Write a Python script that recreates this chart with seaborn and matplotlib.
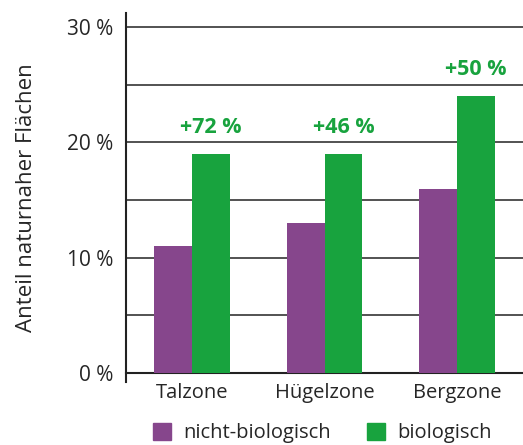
import pandas as pd
import matplotlib.pyplot as plt
import matplotlib.patches as mpatches
import seaborn as sns


# =====================
# DATA
# =====================

zones = ["Talzone", "Hügelzone", "Bergzone"]
nicht_bio = [11, 13, 16]
bio = [19, 19, 24]
increase_labels = ["+72 %", "+46 %", "+50 %"]
series_names = ["nicht-biologisch", "biologisch"]

df = pd.DataFrame({
    "zone": zones * 2,
    "wert": nicht_bio + bio,
    "typ": [series_names[0]] * 3 + [series_names[1]] * 3
})

purple = "#86468C"
green = "#18A33E"


# =====================
# PLOT
# =====================

sns.set_style("white")
plt.rcParams["font.family"] = ["Open Sans", "DejaVu Sans"]

fig = plt.figure(figsize=(5.23, 4.45), dpi=100)
ax = fig.add_axes([0.241, 0.141, 0.759, 0.829])

sns.barplot(
    data=df,
    x="zone",
    y="wert",
    hue="typ",
    palette=[purple, green],
    width=0.57,
    saturation=1,
    legend=False,
    linewidth=0,
    edgecolor="none",
    zorder=3,
    ax=ax
)

# annotations above the green bars
for i, (val, lab) in enumerate(zip(bio, increase_labels)):
    ax.text(
        i + 0.1425,
        val + 2.3,
        lab,
        ha="center",
        va="center",
        color=green,
        fontsize=15.5,
        fontweight="bold"
    )

ax.set_xlim(-0.5, 2.5)
ax.set_ylim(-0.8, 31.2)

ax.set_yticks([0, 10, 20, 30])
ax.set_yticklabels(["0 %", "10 %", "20 %", "30 %"])
ax.set_yticks([5, 15, 25], minor=True)
ax.yaxis.grid(True, which="both", color="#444444", linewidth=1.3, zorder=0)
ax.set_axisbelow(True)

ax.tick_params(axis="y", which="both", length=7, width=1.3,
               color="#444444", labelsize=15, pad=2)
ax.tick_params(axis="x", which="major", length=0, labelsize=14.5, pad=7)
ax.set_xticks([0.5, 1.5], minor=True)
ax.tick_params(axis="x", which="minor", length=7, width=1.2,
               color="#222222", direction="out")

for side in ["top", "right"]:
    ax.spines[side].set_visible(False)
ax.spines["bottom"].set_position(("data", 0))
ax.spines["bottom"].set_color("#222222")
ax.spines["bottom"].set_linewidth(1.5)
ax.spines["left"].set_color("#222222")
ax.spines["left"].set_linewidth(1.5)

ax.set_xlabel("")
ax.set_ylabel("Anteil naturnaher Flächen", fontsize=16, labelpad=22)

handles = [
    mpatches.Patch(color=purple, label=series_names[0]),
    mpatches.Patch(color=green, label=series_names[1])
]
fig.legend(
    handles=handles,
    loc="lower left",
    bbox_to_anchor=(0.258, -0.037),
    ncol=2,
    frameon=False,
    fontsize=14.5,
    handlelength=0.9,
    handleheight=0.9,
    handletextpad=0.6,
    columnspacing=1.8
)

fig.savefig("out.png", dpi=100)
plt.close()
